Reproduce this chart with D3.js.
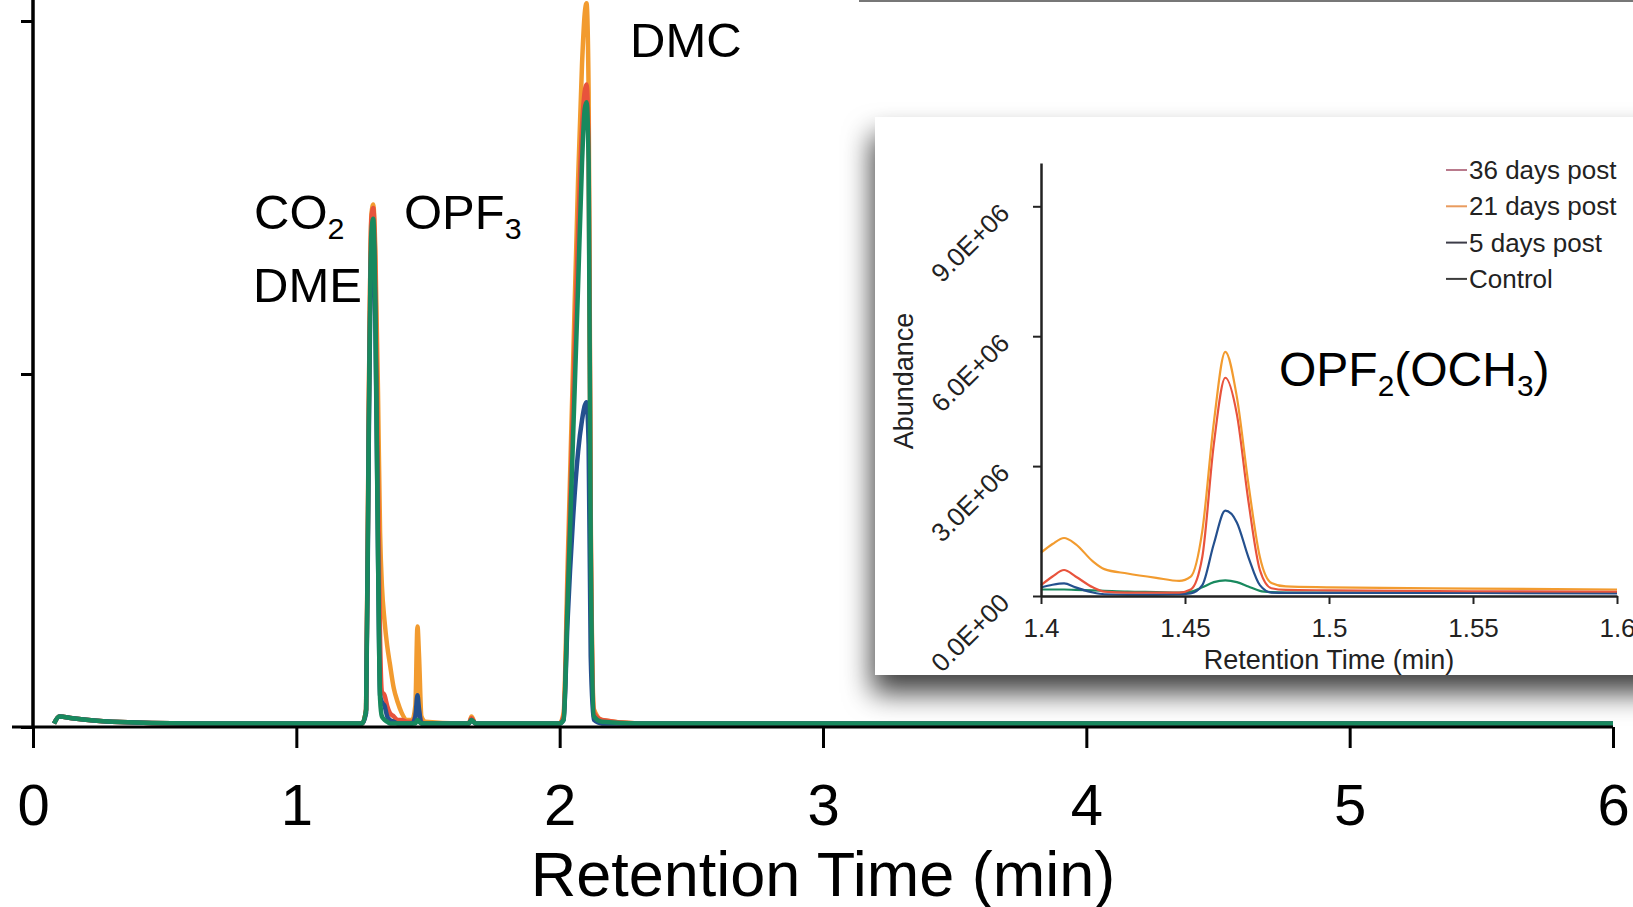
<!DOCTYPE html>
<html>
<head>
<meta charset="utf-8">
<script src="https://cdn.jsdelivr.net/npm/d3@7"></script>
<style>
  body { margin: 0; background: #fff; }
  svg { display: block; font-family: "Liberation Sans", Arial, sans-serif; }
</style>
</head>
<body>
<svg id="chart"></svg>
<script>
// main chromatogram, 0-6 min (arbitrary abundance units)
var mainTime = [0.08, 0.10, 0.15, 0.30, 0.60, 1.00, 1.25, 1.265, 1.275, 1.285, 1.292, 1.30, 1.31, 1.318, 1.325,
    1.335, 1.345, 1.355, 1.37, 1.385, 1.40, 1.42, 1.44, 1.452, 1.46, 1.466, 1.475, 1.49, 1.62, 1.655, 1.665,
    1.68, 1.90, 2.00, 2.015, 2.03, 2.05, 2.07, 2.085, 2.095, 2.102, 2.11, 2.118, 2.13, 2.16, 2.30, 3.0, 4.0, 5.0, 6.0]

var main21Days = [0.01, 0.03, 0.025, 0.015, 0.01, 0.01, 0.01, 0.05, 0.9, 1.45, 1.48, 1.35, 0.95, 0.55, 0.4,
    0.3, 0.23, 0.18, 0.11, 0.07, 0.04, 0.02, 0.02, 0.06, 0.285, 0.2, 0.03, 0.015, 0.01, 0.01, 0.03,
    0.01, 0.01, 0.01, 0.04, 0.45, 1.0, 1.55, 1.88, 2.02, 2.05, 1.8, 0.6, 0.05, 0.02, 0.01, 0.01, 0.01, 0.01, 0.01]

var main36Days = [0.01, 0.03, 0.025, 0.015, 0.01, 0.01, 0.01, 0.05, 0.9, 1.44, 1.47, 1.3, 0.7, 0.25, 0.1,
    0.09, 0.06, 0.04, 0.03, 0.02, 0.02, 0.015, 0.015, 0.03, 0.06, 0.04, 0.015, 0.01, 0.01, 0.01, 0.025,
    0.01, 0.01, 0.01, 0.03, 0.38, 0.9, 1.4, 1.7, 1.8, 1.82, 1.65, 0.55, 0.04, 0.02, 0.01, 0.01, 0.01, 0.01, 0.01]

var main5Days = [0.01, 0.03, 0.025, 0.015, 0.01, 0.01, 0.01, 0.04, 0.8, 1.36, 1.4, 1.15, 0.5, 0.09, 0.07,
    0.06, 0.03, 0.02, 0.015, 0.01, 0.01, 0.01, 0.01, 0.03, 0.09, 0.05, 0.01, 0.01, 0.01, 0.01, 0.02,
    0.01, 0.01, 0.01, 0.02, 0.3, 0.58, 0.78, 0.87, 0.91, 0.92, 0.8, 0.2, 0.02, 0.01, 0.01, 0.01, 0.01, 0.01, 0.01]

var mainControl = [0.01, 0.03, 0.025, 0.015, 0.01, 0.01, 0.01, 0.05, 0.85, 1.4, 1.44, 1.2, 0.5, 0.08, 0.03,
    0.02, 0.015, 0.01, 0.01, 0.01, 0.01, 0.01, 0.01, 0.01, 0.02, 0.015, 0.01, 0.01, 0.01, 0.01, 0.02,
    0.01, 0.01, 0.01, 0.02, 0.35, 0.8, 1.25, 1.6, 1.75, 1.77, 1.6, 0.5, 0.03, 0.015, 0.01, 0.01, 0.01, 0.01, 0.01]

// inset, 1.4-1.6 min
var insetTime = [1.400, 1.404, 1.408, 1.412, 1.418, 1.422, 1.430, 1.440, 1.448, 1.452, 1.456, 1.460, 1.464,
    1.468, 1.472, 1.476, 1.480, 1.485, 1.500, 1.550, 1.600]

var inset21Days = [1.0e6, 1.2e6, 1.34e6, 1.2e6, 0.8e6, 0.62e6, 0.52e6, 0.42e6, 0.35e6, 0.45e6, 1.5e6, 4.0e6, 5.64e6,
    4.6e6, 2.6e6, 0.9e6, 0.3e6, 0.22e6, 0.2e6, 0.17e6, 0.15e6]

var inset36Days = [0.25e6, 0.45e6, 0.6e6, 0.45e6, 0.2e6, 0.1e6, 0.08e6, 0.08e6, 0.08e6, 0.15e6, 0.9e6, 3.5e6, 5.04e6,
    4.2e6, 2.2e6, 0.6e6, 0.18e6, 0.14e6, 0.13e6, 0.11e6, 0.1e6]

var inset5Days = [0.2e6, 0.26e6, 0.29e6, 0.2e6, 0.08e6, 0.04e6, 0.03e6, 0.03e6, 0.04e6, 0.06e6, 0.25e6, 1.2e6, 1.97e6,
    1.7e6, 0.9e6, 0.25e6, 0.08e6, 0.07e6, 0.07e6, 0.07e6, 0.06e6]

var insetControl = [0.15e6, 0.15e6, 0.15e6, 0.14e6, 0.13e6, 0.12e6, 0.1e6, 0.09e6, 0.08e6, 0.1e6, 0.2e6, 0.32e6, 0.36e6,
    0.32e6, 0.22e6, 0.12e6, 0.09e6, 0.08e6, 0.08e6, 0.08e6, 0.07e6]

var mainXTicks = [0, 1, 2, 3, 4, 5, 6]
var mainYTicks = [0, 1, 2]
var insetXTicks = [1.4, 1.45, 1.5, 1.55, 1.6]
var insetYTicks = [0, 3e6, 6e6, 9e6]

var seriesNames = ["21 days post", "36 days post", "5 days post", "Control"]
var seriesColors = ["#f29b2f", "#e8533c", "#24508e", "#18895e"]
var legendLabels = ["36 days post", "21 days post", "5 days post", "Control"]
var legendColors = ["#b97a8c", "#e99b5e", "#3c3c48", "#3c3c3c"]

var makeTranslateString = function (x, y) {
    return "translate(" + x + "," + y + ")";
}

// zip a time array with a value array into point objects
var toPoints = function (times, values) {
    return times.map(function (t, i) {
        return { t: t, v: values[i] }
    })
}

var screen = { width: 1633, height: 907 }

var svg = d3.select("#chart")
    .attr("width", screen.width)
    .attr("height", screen.height)

var defs = svg.append("defs")
var shadow = defs.append("filter")
    .attr("id", "shadow")
    .attr("x", "-20%").attr("y", "-20%")
    .attr("width", "140%").attr("height", "150%")
shadow.append("feDropShadow")
    .attr("dx", -3)
    .attr("dy", 18)
    .attr("stdDeviation", 14)
    .attr("flood-color", "#000")
    .attr("flood-opacity", 0.75)

//---------------- main chart ----------------
var xScale = d3.scaleLinear()
    .domain([0, 6])
    .range([33, 1613])

var yScale = d3.scaleLinear()
    .domain([0, 2])
    .range([727, 21])

var drawMainAxes = function () {
    var axes = svg.append("g").classed("main-axes", true)

    var xAxis = d3.axisBottom(xScale)
        .tickValues(mainXTicks)
        .tickSize(21)
        .tickFormat(d3.format("d"))

    var gx = axes.append("g")
        .attr("transform", makeTranslateString(0, yScale(0)))
        .call(xAxis)
    gx.select(".domain").remove()
    gx.selectAll(".tick line").attr("stroke", "#000").attr("stroke-width", 3)
    gx.selectAll(".tick text")
        .attr("y", 98)
        .attr("dy", 0)
        .attr("font-size", 58)
        .attr("fill", "#000")

    var yAxis = d3.axisLeft(yScale)
        .tickValues(mainYTicks)
        .tickSize(12)
        .tickFormat("")

    var gy = axes.append("g")
        .attr("transform", makeTranslateString(xScale(0), 0))
        .call(yAxis)
    gy.select(".domain").remove()
    gy.selectAll(".tick line").attr("stroke", "#000").attr("stroke-width", 3)

    // axis lines
    axes.append("line")
        .attr("x1", xScale(0) - 21).attr("x2", xScale(6))
        .attr("y1", yScale(0)).attr("y2", yScale(0))
        .attr("stroke", "#000").attr("stroke-width", 3)
    axes.append("line")
        .attr("x1", xScale(0)).attr("x2", xScale(0))
        .attr("y1", yScale(0)).attr("y2", 0)
        .attr("stroke", "#000").attr("stroke-width", 3.5)

    svg.append("text")
        .text("Retention Time (min)")
        .attr("text-anchor", "middle")
        .attr("x", xScale(3))
        .attr("y", 896)
        .attr("font-size", 63)
        .attr("fill", "#000")
}

var drawMainLines = function () {
    var lineGenerator = d3.line()
        .x(function (p) { return xScale(p.t) })
        .y(function (p) { return yScale(p.v) })
        .curve(d3.curveMonotoneX)

    var series = [main21Days, main36Days, main5Days, mainControl]

    svg.append("g")
        .classed("main-lines", true)
        .selectAll("path")
        .data(series)
        .enter()
        .append("path")
        .attr("d", function (vals) { return lineGenerator(toPoints(mainTime, vals)) })
        .attr("fill", "none")
        .attr("stroke", function (vals, i) { return seriesColors[i] })
        .attr("stroke-width", 4.5)
        .attr("stroke-linejoin", "round")
}

// text with an optional subscript part
var addChemLabel = function (parent, parts, x, y, size) {
    var t = parent.append("text")
        .attr("x", x)
        .attr("y", y)
        .attr("font-size", size)
        .attr("fill", "#000")
    parts.forEach(function (part) {
        if (part.sub) {
            t.append("tspan")
                .text(part.text)
                .attr("font-size", size * 0.62)
                .attr("dy", size * 0.2)
        } else {
            t.append("tspan")
                .text(part.text)
                .attr("dy", part.after ? -size * 0.2 : 0)
        }
    })
}

var drawMainLabels = function () {
    var labels = svg.append("g").classed("labels", true)
    addChemLabel(labels, [{ text: "CO" }, { text: "2", sub: true }], 254, 229, 49)
    addChemLabel(labels, [{ text: "DME" }], 253, 302, 49)
    addChemLabel(labels, [{ text: "OPF" }, { text: "3", sub: true }], 404, 229, 49)
    addChemLabel(labels, [{ text: "DMC" }], 630, 57, 49)
}

//---------------- inset ----------------
var insetX = d3.scaleLinear()
    .domain([1.4, 1.6])
    .range([1041, 1617])

var insetY = d3.scaleLinear()
    .domain([0, 10e6])
    .range([596, 163])

var sciFormat = function (v) {
    if (v === 0) { return "0.0E+00" }
    return (v / 1e6).toFixed(1) + "E+06"
}

var drawInset = function () {
    var inset = svg.append("g").classed("inset", true)

    inset.append("rect")
        .attr("x", 875)
        .attr("y", 117)
        .attr("width", 820)
        .attr("height", 558)
        .attr("fill", "#fff")
        .attr("filter", "url(#shadow)")

    var lineGenerator = d3.line()
        .x(function (p) { return insetX(p.t) })
        .y(function (p) { return insetY(p.v) })
        .curve(d3.curveMonotoneX)

    var series = [insetControl, inset5Days, inset36Days, inset21Days]
    var colors = [seriesColors[3], seriesColors[2], seriesColors[1], seriesColors[0]]

    inset.append("g")
        .selectAll("path")
        .data(series)
        .enter()
        .append("path")
        .attr("d", function (vals) { return lineGenerator(toPoints(insetTime, vals)) })
        .attr("fill", "none")
        .attr("stroke", function (vals, i) { return colors[i] })
        .attr("stroke-width", 2.2)

    var xAxis = d3.axisBottom(insetX)
        .tickValues(insetXTicks)
        .tickSize(8)
        .tickSizeOuter(0)
        .tickFormat(function (d) { return String(+d.toFixed(2)) })

    var gx = inset.append("g")
        .attr("transform", makeTranslateString(0, insetY(0)))
        .call(xAxis)
    gx.select(".domain").attr("stroke", "#222").attr("stroke-width", 2.5)
    gx.selectAll(".tick line").attr("stroke", "#222").attr("stroke-width", 2)
    gx.selectAll(".tick text")
        .attr("y", 41)
        .attr("dy", 0)
        .attr("font-size", 26)
        .attr("fill", "#222")

    var yAxis = d3.axisLeft(insetY)
        .tickValues(insetYTicks)
        .tickSize(8)
        .tickSizeOuter(0)
        .tickFormat(sciFormat)

    var gy = inset.append("g")
        .attr("transform", makeTranslateString(insetX(1.4), 0))
        .call(yAxis)
    gy.select(".domain").attr("stroke", "#222").attr("stroke-width", 2.5)
    gy.selectAll(".tick line").attr("stroke", "#222").attr("stroke-width", 2)
    gy.selectAll(".tick text")
        .attr("x", null)
        .attr("dy", null)
        .attr("text-anchor", "end")
        .attr("font-size", 26)
        .attr("fill", "#222")
        .attr("transform", "translate(-30,8) rotate(-45)")

    inset.append("text")
        .text("Retention Time (min)")
        .attr("text-anchor", "middle")
        .attr("x", insetX(1.5))
        .attr("y", 669)
        .attr("font-size", 27)
        .attr("fill", "#222")

    inset.append("text")
        .text("Abundance")
        .attr("text-anchor", "middle")
        .attr("transform", makeTranslateString(913, 381) + " rotate(-90)")
        .attr("font-size", 27)
        .attr("fill", "#222")

    // legend
    var legend = inset.append("g")
        .attr("transform", makeTranslateString(1446, 170))
    var entries = legend.selectAll("g")
        .data(legendLabels)
        .enter()
        .append("g")
        .attr("transform", function (d, i) { return makeTranslateString(0, i * 36.3) })
    entries.append("line")
        .attr("x1", 0).attr("x2", 21)
        .attr("y1", 0).attr("y2", 0)
        .attr("stroke", function (d, i) { return legendColors[i] })
        .attr("stroke-width", 2)
    entries.append("text")
        .text(function (d) { return d })
        .attr("x", 23)
        .attr("y", 9)
        .attr("font-size", 26)
        .attr("fill", "#222")

    addChemLabel(inset, [{ text: "OPF" }, { text: "2", sub: true }, { text: "(OCH", after: true },
        { text: "3", sub: true }, { text: ")", after: true }], 1279, 386, 48)
}

// thin frame edge at the top right
svg.append("line")
    .attr("x1", 859).attr("x2", screen.width)
    .attr("y1", 1).attr("y2", 1)
    .attr("stroke", "#777").attr("stroke-width", 2)

drawMainLines()
drawMainAxes()
drawMainLabels()
drawInset()
</script>
</body>
</html>
